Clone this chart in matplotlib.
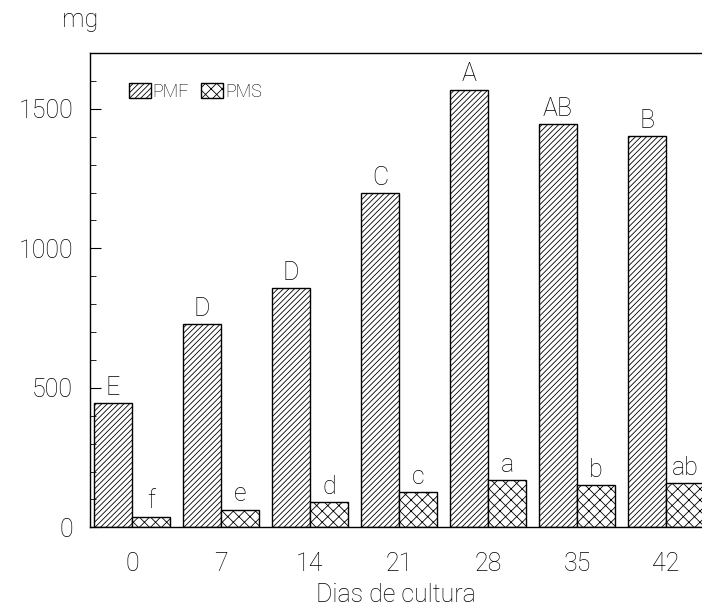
import matplotlib
matplotlib.use("Agg")
import matplotlib.pyplot as plt
import numpy as np
from matplotlib.ticker import MultipleLocator

days = ["0", "7", "14", "21", "28", "35", "42"]
pmf = [445, 728, 857, 1197, 1569, 1444, 1401]
pms = [38, 63, 91, 127, 170, 152, 159]
pmf_letters = ["E", "D", "D", "C", "A", "AB", "B"]
pms_letters = ["f", "e", "d", "c", "a", "b", "ab"]

plt.rcParams['font.family'] = ['Roboto', 'DejaVu Sans']
plt.rcParams['font.weight'] = 'light'
plt.rcParams['hatch.linewidth'] = 0.6

fig = plt.figure(figsize=(7.02, 6.09), dpi=100)
ax = fig.add_axes([0.128, 0.134, 0.872, 0.779])

x = np.arange(len(days))
w = 0.427
ax.bar(x - w/2, pmf, w, facecolor='white', edgecolor='black', hatch='//////', linewidth=1.0, label='PMF')
ax.bar(x + w/2, pms, w, facecolor='white', edgecolor='black', hatch='xxx', linewidth=1.0, label='PMS')

fs = 18
for xi, v, t in zip(x - w/2, pmf, pmf_letters):
    ax.text(xi, v + 12, t, ha='center', va='bottom', fontsize=fs, fontweight='light')
for xi, v, t in zip(x + w/2, pms, pms_letters):
    ax.text(xi, v + 12, t, ha='center', va='bottom', fontsize=fs, fontweight='light')

ax.set_xlim(-0.472, 6.404)
ax.set_ylim(0, 1700)
ax.set_xticks(x)
ax.set_xticklabels(days, fontsize=fs, fontweight='light')
ax.tick_params(axis='x', length=0, pad=18)
ax.yaxis.set_major_locator(MultipleLocator(500))
ax.yaxis.set_minor_locator(MultipleLocator(100))
ax.tick_params(axis='y', which='major', direction='in', length=8, labelsize=fs, pad=12)
ax.tick_params(axis='y', which='minor', direction='in', length=4)
for lab in ax.get_yticklabels():
    lab.set_fontweight('light')
ax.spines['right'].set_visible(False)
for s in ['left', 'top', 'bottom']:
    ax.spines[s].set_linewidth(1.0)

ax.set_xlabel("Dias de cultura", fontsize=fs, fontweight='light', labelpad=5)
fig.text(0.088, 0.967, "mg", fontsize=fs, fontweight='light', ha='left', va='center')

leg = ax.legend(loc='upper left', bbox_to_anchor=(0.052, 0.952), ncol=2, frameon=False,
                fontsize=13, handlelength=1.2, handleheight=0.9, handletextpad=0.1,
                columnspacing=0.7, borderaxespad=0)

fig.savefig("out.png", dpi=100)
